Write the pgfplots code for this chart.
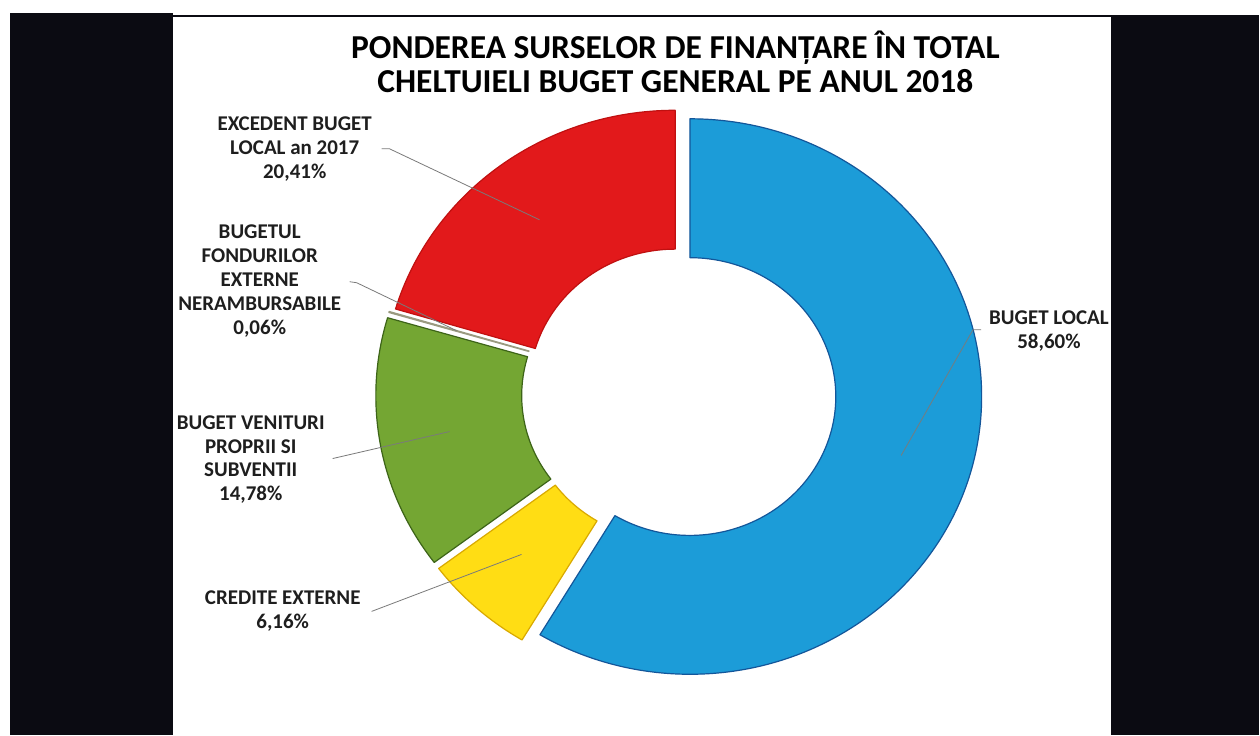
\documentclass[border=0pt]{standalone}
\usepackage{fontspec}
\setmainfont{Carlito}
\usepackage{pgfplots}
\usepackage{pgfplotstable}
\pgfplotsset{compat=1.18}

\definecolor{bgblack}{HTML}{0B0B12}
\definecolor{cblue}{HTML}{1C9CD8}
\definecolor{cblueE}{HTML}{13569A}
\definecolor{cyellow}{HTML}{FFDD14}
\definecolor{cyellowE}{HTML}{D9A900}
\definecolor{cgreen}{HTML}{74A633}
\definecolor{cgreenE}{HTML}{3D6418}
\definecolor{ccream}{HTML}{F2EFD8}
\definecolor{ccreamE}{HTML}{9A9A80}
\definecolor{cred}{HTML}{E2191B}
\definecolor{credE}{HTML}{C01010}
\definecolor{leader}{HTML}{7A7A7A}
\definecolor{txt}{HTML}{1E1E1E}

% share of each source, explode offset (px), fill, edge
\pgfplotstableread{
name value explode fill edge
local 58.60 11 cblue cblueE
credite 6.16 11 cyellow cyellowE
venituri 14.78 12 cgreen cgreenE
fonduri 0.06 11 ccream ccreamE
excedent 20.41 7 cred credE
}\slices

% donut geometry (1 unit = 1 px of the scan, slightly wider than tall)
\def\cx{680}\def\cy{342}
\def\Rx{292}\def\Ry{278}
\def\rx{146}\def\ry{139}

\begin{document}
\begin{tikzpicture}
\begin{axis}[hide axis, x=1pt, y=1pt, xmin=0, xmax=1260, ymin=0, ymax=736,
  clip=false, anchor=origin, at={(0,0)}]
  % scan background
  \fill[white] (axis cs:0,0) rectangle (axis cs:1260,736);
  \fill[bgblack] (axis cs:10,0) rectangle (axis cs:173,723);
  \fill[bgblack] (axis cs:1112,0) rectangle (axis cs:1260,721);
  \draw[bgblack, line width=2.5pt] (axis cs:173,720) -- (axis cs:1260,720);

  \def\angstart{90}
  \pgfplotsforeachungrouped \i in {0,...,4}{%
    \pgfplotstablegetelem{\i}{value}\of\slices \let\val\pgfplotsretval
    \pgfplotstablegetelem{\i}{explode}\of\slices \let\dd\pgfplotsretval
    \pgfplotstablegetelem{\i}{fill}\of\slices \let\fc\pgfplotsretval
    \pgfplotstablegetelem{\i}{edge}\of\slices \let\ec\pgfplotsretval
    \pgfmathsetmacro\angend{\angstart-3.59964*\val}
    \pgfmathsetmacro\midang{(\angstart+\angend)/2}
    \pgfmathsetmacro\ox{\cx+\dd*cos(\midang)}
    \pgfmathsetmacro\oy{\cy+\dd*sin(\midang)}
    \pgfmathsetmacro\ax{\ox+\Rx*cos(\angstart)}
    \pgfmathsetmacro\ay{\oy+\Ry*sin(\angstart)}
    \pgfmathsetmacro\bx{\ox+\rx*cos(\angend)}
    \pgfmathsetmacro\by{\oy+\ry*sin(\angend)}
    \edef\doslice{\noexpand\filldraw[fill=\fc, draw=\ec, line width=1.2pt, line join=round]
      (axis cs:\ax,\ay) arc[start angle=\angstart, end angle=\angend, x radius=\Rx, y radius=\Ry]
      -- (axis cs:\bx,\by) arc[start angle=\angend, end angle=\angstart, x radius=\rx, y radius=\ry] -- cycle;}%
    \doslice
    \global\let\angstart\angend
  }

  % leader lines
  \draw[leader, line width=0.8pt] (axis cs:382,587) -- (axis cs:390,587) -- (axis cs:540,516);
  \draw[leader, line width=0.8pt] (axis cs:350,454) -- (axis cs:357,453) -- (axis cs:457,405);
  \draw[leader, line width=0.8pt] (axis cs:333,277) -- (axis cs:450,304);
  \draw[leader, line width=0.8pt] (axis cs:372,124) -- (axis cs:522,181);
  \draw[leader, line width=0.8pt] (axis cs:982,406) -- (axis cs:974,406) -- (axis cs:902,280);

  % labels
  \tikzset{lbl/.style={align=center, inner sep=0pt, text=txt,
    font=\fontsize{21}{24}\selectfont\bfseries}}
  \node[lbl] at (axis cs:295,587) {EXCEDENT BUGET\\LOCAL an 2017\\20,41\%};
  \node[lbl] at (axis cs:260,455) {BUGETUL\\FONDURILOR\\EXTERNE\\NERAMBURSABILE\\0,06\%};
  \node[lbl] at (axis cs:251,276) {BUGET VENITURI\\PROPRII SI\\SUBVENTII\\14,78\%};
  \node[lbl] at (axis cs:283,124) {CREDITE EXTERNE\\6,16\%};
  \node[lbl] at (axis cs:1050,405) {BUGET LOCAL\\58,60\%};

  % title
  \node[align=center, inner sep=0pt, text=black, font=\fontsize{33.5}{34}\selectfont\bfseries]
    at (axis cs:676,674) {PONDEREA SURSELOR DE FINANȚARE ÎN TOTAL\\CHELTUIELI BUGET GENERAL PE ANUL 2018};
\end{axis}
\end{tikzpicture}
\end{document}
